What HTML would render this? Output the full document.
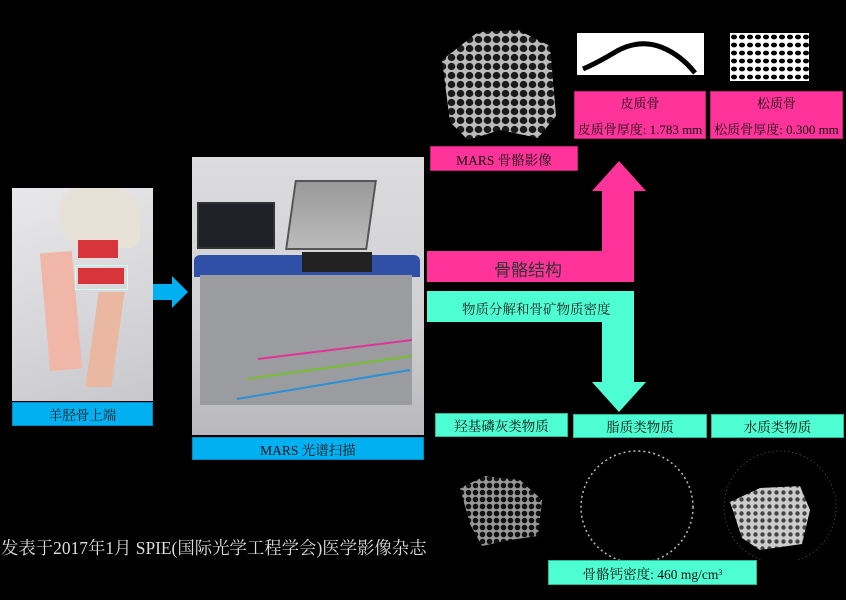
<!DOCTYPE html>
<html><head><meta charset="utf-8"><style>
body{margin:0;width:846px;height:600px;background:#000;position:relative;overflow:hidden;font-family:"Liberation Serif","Noto Serif CJK SC","Noto Sans CJK SC",serif;}
.a{position:absolute;box-sizing:border-box;}
.lb{position:absolute;box-sizing:border-box;display:flex;align-items:center;justify-content:center;font-size:13.5px;color:#111;}
.pk{background:#ff3399;border:1px solid #c02070;}
.cy{background:#4dffd2;border:1px solid #2cb896;}
.bl{background:#00b0f0;border:1px solid #0088c0;}
.two{flex-direction:column;gap:7px;font-size:13px;padding:0 2px;}
</style></head><body>

<!-- left photo -->
<div class="a" style="left:12px;top:188px;width:141px;height:213px;background:linear-gradient(160deg,#e8e8ea,#d6d6da 60%,#c8c8cc);"></div>
<div class="a" style="left:60px;top:188px;width:80px;height:60px;background:#e6e0d6;border-radius:20px 30px 10px 30px;"></div>
<div class="a" style="left:45px;top:252px;width:32px;height:118px;background:#f0b6a8;transform:rotate(-5deg);"></div>
<div class="a" style="left:78px;top:240px;width:40px;height:18px;background:#d8353a;"></div>
<div class="a" style="left:78px;top:268px;width:46px;height:16px;background:#d8353a;"></div>
<div class="a" style="left:75px;top:265px;width:53px;height:25px;border:1px solid #cfe;"></div>
<div class="a" style="left:92px;top:292px;width:26px;height:95px;background:#eab8a0;transform:skewX(-8deg);"></div>
<div class="lb bl" style="left:12px;top:402px;width:141px;height:24px;">羊胫骨上端</div>

<!-- blue arrow -->
<svg class="a" style="left:152px;top:274px" width="38" height="36"><polygon points="1,10 20,10 20,2 36,18 20,34 20,26 1,26" fill="#00b0f0"/></svg>

<!-- machine photo -->
<div class="a" style="left:192px;top:157px;width:232px;height:278px;background:linear-gradient(#dcdcde,#d0d0d2 60%,#b8b8bc);"></div>
<div class="a" style="left:197px;top:202px;width:78px;height:47px;background:#1e2228;border:2px solid #333;"></div>
<div class="a" style="left:290px;top:180px;width:82px;height:70px;background:linear-gradient(#999,#bbb);border:2px solid #555;transform:skewX(-8deg);"></div>
<div class="a" style="left:194px;top:255px;width:226px;height:22px;background:#3050a8;border-radius:6px 6px 0 0;"></div>
<div class="a" style="left:302px;top:252px;width:70px;height:20px;background:#222;"></div>
<div class="a" style="left:200px;top:275px;width:212px;height:130px;background:#9a9ca0;"></div>
<svg class="a" style="left:192px;top:157px" width="232" height="278">
<line x1="66" y1="202" x2="220" y2="183" stroke="#e0339a" stroke-width="2"/>
<line x1="55" y1="222" x2="220" y2="199" stroke="#78c030" stroke-width="2"/>
<line x1="45" y1="242" x2="218" y2="213" stroke="#2a90d8" stroke-width="2"/>
</svg>
<div class="lb bl" style="left:192px;top:437px;width:232px;height:23px;">MARS 光谱扫描</div>

<!-- pink arrow -->
<svg class="a" style="left:426px;top:160px" width="222" height="124"><polygon points="1,91 176,91 176,31 166,31 193,1 220,31 208,31 208,122 1,122" fill="#ff3399"/></svg>
<div class="a" style="left:494px;top:256px;font-size:17px;color:#333;font-family:'Noto Sans CJK SC',sans-serif;">骨骼结构</div>

<!-- cyan arrow -->
<svg class="a" style="left:426px;top:290px" width="222" height="126"><polygon points="1,1 208,1 208,92 220,92 193,122 166,92 176,92 176,32 1,32" fill="#4dffd2"/></svg>
<div class="a" style="left:462px;top:298px;font-size:13.5px;color:#222;">物质分解和骨矿物质密度</div>

<!-- top images -->
<svg class="a" style="left:438px;top:26px" width="130" height="116">
<defs><pattern id="p" width="9" height="9" patternUnits="userSpaceOnUse"><rect width="9" height="9" fill="#bbb"/><ellipse cx="4.5" cy="4.5" rx="3.8" ry="3.6" fill="#1a1a1a"/></pattern></defs>
<polygon points="4,34 40,6 80,4 112,20 118,90 100,112 62,104 30,114 12,96" fill="url(#p)"/>
</svg>
<div class="a" style="left:577px;top:33px;width:127px;height:42px;background:#fff;"></div>
<svg class="a" style="left:577px;top:33px" width="127" height="42"><path d="M6,36 Q20,30 40,18 Q62,6 84,14 Q104,22 118,40" stroke="#000" stroke-width="5" fill="none"/></svg>
<svg class="a" style="left:730px;top:33px" width="79" height="48"><defs><pattern id="q" width="8" height="8" patternUnits="userSpaceOnUse"><rect width="8" height="8" fill="#fff"/><ellipse cx="4" cy="4" rx="3" ry="2.4" fill="#000"/></pattern></defs><rect width="79" height="48" fill="url(#q)"/></svg>

<div class="lb pk" style="left:430px;top:146px;width:148px;height:25px;">MARS 骨骼影像</div>
<div class="lb pk two" style="left:574px;top:91px;width:132px;height:48px;"><span>皮质骨</span><span style="white-space:nowrap">皮质骨厚度: 1.783 mm</span></div>
<div class="lb pk two" style="left:710px;top:91px;width:133px;height:48px;"><span>松质骨</span><span style="white-space:nowrap">松质骨厚度: 0.300 mm</span></div>

<div class="lb cy" style="left:435px;top:413px;width:133px;height:24px;">羟基磷灰类物质</div>
<div class="lb cy" style="left:573px;top:414px;width:134px;height:24px;">脂质类物质</div>
<div class="lb cy" style="left:711px;top:414px;width:133px;height:24px;">水质类物质</div>

<!-- bottom images -->
<svg class="a" style="left:430px;top:440px" width="416" height="120">
<defs><pattern id="r" width="7" height="7" patternUnits="userSpaceOnUse"><rect width="7" height="7" fill="#999"/><circle cx="3.5" cy="3.5" r="2.8" fill="#111"/></pattern>
<pattern id="s" width="7" height="7" patternUnits="userSpaceOnUse"><rect width="7" height="7" fill="#ccc"/><circle cx="3.5" cy="3.5" r="2.2" fill="#444"/></pattern></defs>
<polygon points="30,48 55,36 90,40 112,60 108,96 80,100 52,106 40,84" fill="url(#r)"/>
<circle cx="207" cy="67" r="56" fill="none" stroke="#bbb" stroke-width="1.5" stroke-dasharray="2 3"/>
<circle cx="350" cy="67" r="56" fill="none" stroke="#555" stroke-width="1" stroke-dasharray="1 3"/>
<polygon points="300,62 330,48 370,46 380,70 372,104 330,110 312,98" fill="url(#s)"/>
</svg>
<div class="lb cy" style="left:548px;top:560px;width:209px;height:25px;">骨骼钙密度: 460 mg/cm<sup style="font-size:8px">3</sup></div>

<div class="a" style="left:1px;top:534px;font-size:17.4px;color:#ddd;white-space:nowrap;">发表于2017年1月 SPIE(国际光学工程学会)医学影像杂志</div>
</body></html>
